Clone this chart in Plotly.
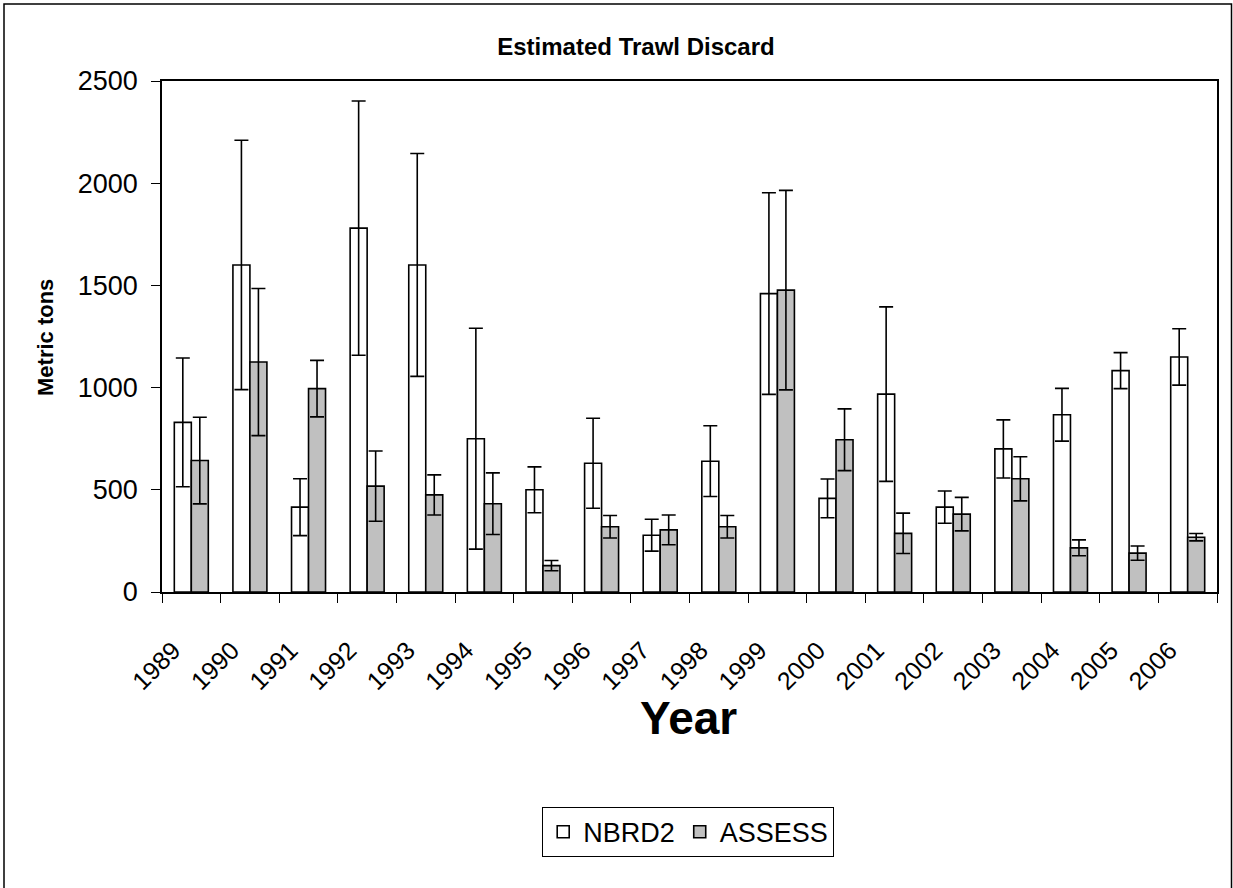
import plotly.graph_objects as go

years = ["1989", "1990", "1991", "1992", "1993", "1994", "1995", "1996", "1997",
         "1998", "1999", "2000", "2001", "2002", "2003", "2004", "2005", "2006"]
nbrd2 = [830, 1600, 415, 1780, 1600, 750, 500, 630, 278, 640, 1460, 458, 968, 415, 700, 867, 1083, 1150]
nbrd2_err = [315, 610, 139, 622, 545, 540, 112, 220, 78, 173, 493, 95, 427, 79, 142, 129, 88, 138]
assess = [643, 1125, 995, 518, 475, 432, 129, 319, 304, 319, 1477, 745, 287, 381, 554, 216, 190, 268]
assess_err = [212, 360, 138, 172, 98, 151, 25, 55, 73, 55, 488, 151, 99, 82, 108, 39, 35, 18]
y_ticks = [0, 500, 1000, 1500, 2000, 2500]

FONT = "Arial, Liberation Sans, sans-serif"
W, H = 1233, 888
L, R, T, B = 162, 16, 81, 296
pw, ph = W - L - R, H - T - B

def px_x(x):
    return (x - L) / pw

def px_y(y):
    return (H - B - y) / ph

fig = go.Figure()
fig.add_trace(go.Bar(
    name="NBRD2", x=years, y=nbrd2,
    marker=dict(color="white", line=dict(color="black", width=1.6)),
    error_y=dict(type="data", array=nbrd2_err, color="black", thickness=1.6, width=7),
))
fig.add_trace(go.Bar(
    name="ASSESS", x=years, y=assess,
    marker=dict(color="#C0C0C0", line=dict(color="black", width=1.6)),
    error_y=dict(type="data", array=assess_err, color="black", thickness=1.6, width=7),
))

fig.update_layout(
    width=W, height=H,
    margin=dict(l=L, r=R, t=T, b=B),
    paper_bgcolor="white", plot_bgcolor="white",
    barmode="group", bargap=0.42, bargroupgap=0,
    font=dict(family=FONT, color="black", size=24),
    title=dict(text="<b>Estimated Trawl Discard</b>", x=636 / W, xanchor="center",
               y=1 - 47 / H, yanchor="middle", font=dict(size=24, family=FONT)),
    showlegend=True,
    legend=dict(orientation="h", x=px_x(688), xanchor="center", y=px_y(832), yanchor="middle",
                bordercolor="black", borderwidth=1.2, bgcolor="white",
                font=dict(size=27, family=FONT), itemwidth=30, tracegroupgap=0),
)
fig.update_xaxes(
    type="category", showline=True, linecolor="black", linewidth=1.6, mirror=True,
    ticks="outside", tickson="boundaries", ticklen=9, tickcolor="black", tickwidth=1,
    tickangle=-45, tickfont=dict(size=25, family=FONT), showgrid=False,
    ticklabelstandoff=32, ticklabelshift=-18,
)
fig.update_yaxes(
    range=[0, 2500], tickvals=y_ticks, showline=True, linecolor="black", linewidth=1.6,
    mirror=True, ticks="outside", ticklen=9, tickcolor="black", tickwidth=1,
    tickfont=dict(size=27, family=FONT), showgrid=False, zeroline=False,
    ticklabelstandoff=8,
)

fig.add_annotation(text="<b>Metric tons</b>", textangle=-90, xref="paper", yref="paper",
                   x=px_x(45), y=px_y(338), showarrow=False, font=dict(size=22, family=FONT),
                   xanchor="center", yanchor="middle")
fig.add_annotation(text="<b>Year</b>", xref="paper", yref="paper",
                   x=px_x(688), y=px_y(718), showarrow=False, font=dict(size=46, family=FONT),
                   xanchor="center", yanchor="middle")
fig.add_shape(type="rect", xref="paper", yref="paper",
              x0=px_x(4), x1=px_x(1231.5), y0=px_y(895), y1=px_y(4),
              line=dict(color="black", width=1.5), fillcolor="rgba(0,0,0,0)", layer="below")

fig.write_html("out.html", config={"displayModeBar": False},
               post_script="document.body.style.margin='0';document.body.style.overflow='hidden';")
